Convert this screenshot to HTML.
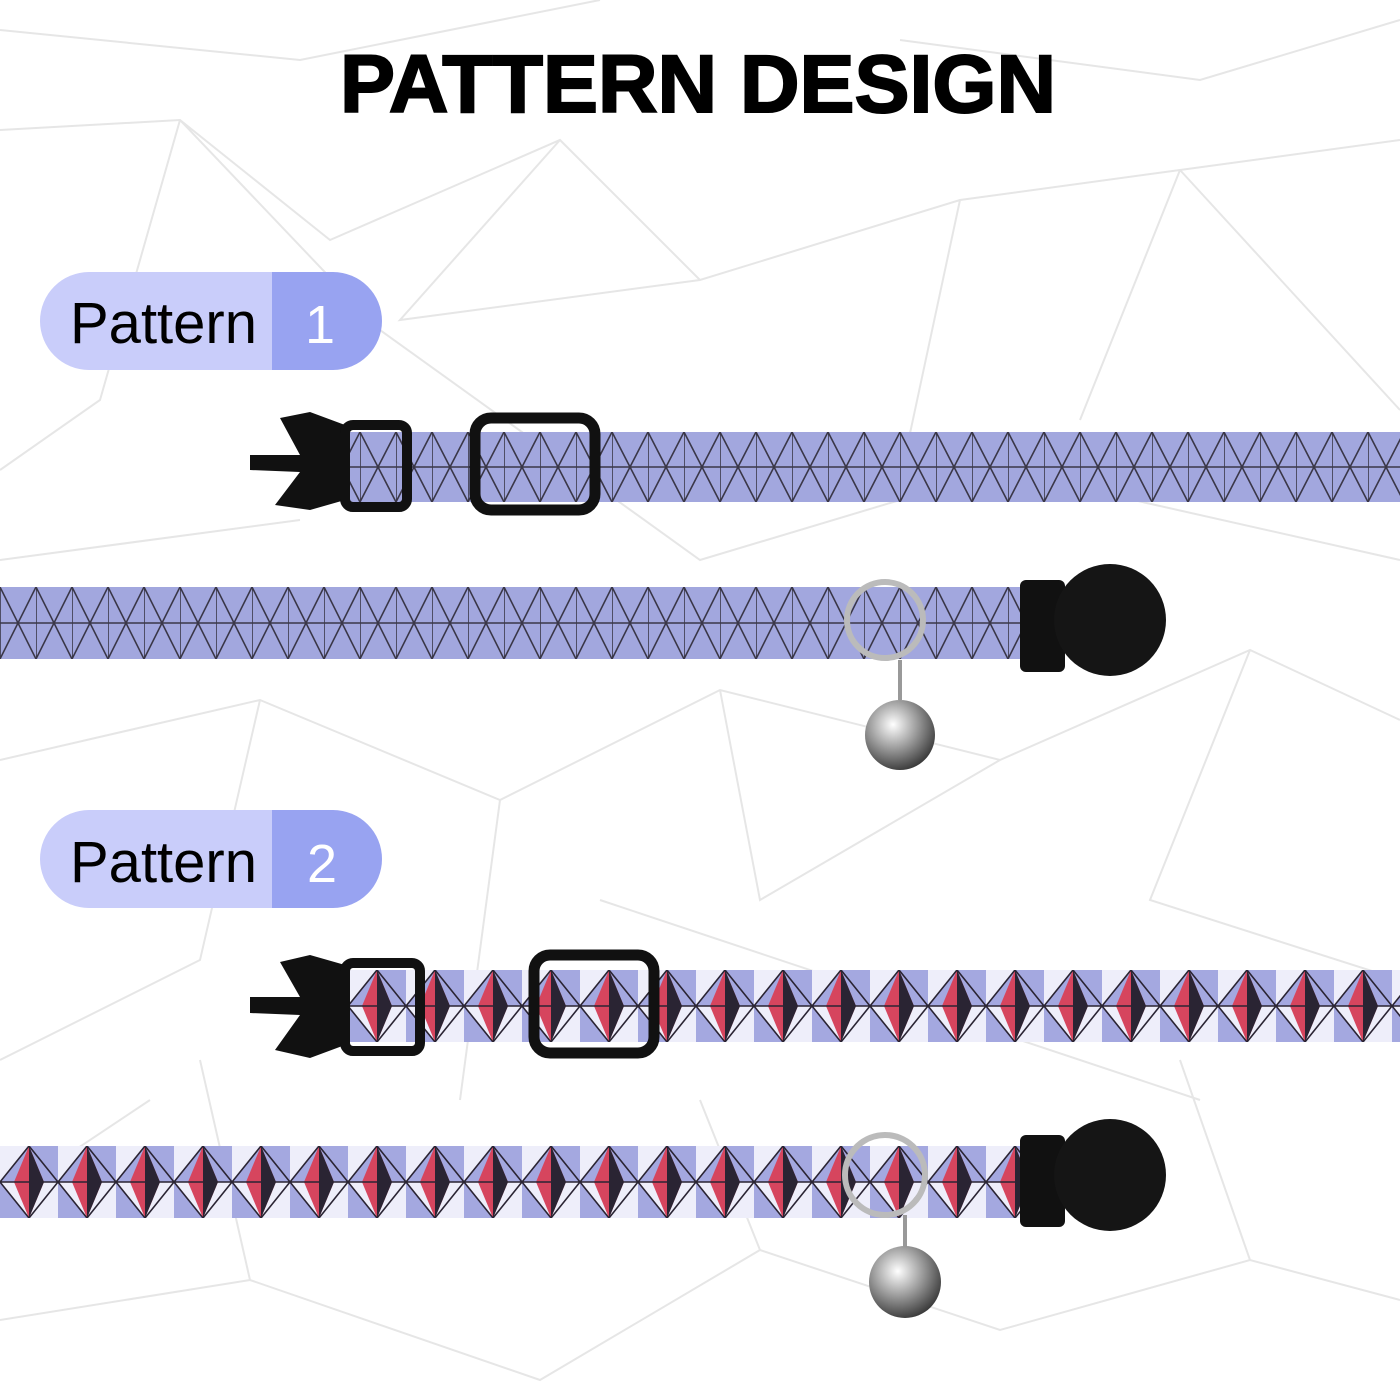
<!DOCTYPE html>
<html><head><meta charset="utf-8"><style>
html,body{margin:0;padding:0;background:#fff;width:1400px;height:1400px;overflow:hidden}
</style></head><body>
<svg width="1400" height="1400" viewBox="0 0 1400 1400" xmlns="http://www.w3.org/2000/svg" font-family="Liberation Sans, DejaVu Sans, sans-serif">
<defs>
<pattern id="p1" x="0" y="432" width="36" height="70" patternUnits="userSpaceOnUse">
<rect width="36" height="70" fill="#a2a7de"/>
<path d="M0 0V70M0 35H36M0 0L36 70M36 0L0 70" stroke="#3a3748" stroke-width="1.6" fill="none"/>
</pattern>
<pattern id="p1b" x="0" y="587" width="36" height="72" patternUnits="userSpaceOnUse">
<rect width="36" height="72" fill="#a2a7de"/>
<path d="M0 0V72M0 36H36M0 0L36 72M36 0L0 72" stroke="#3a3748" stroke-width="1.6" fill="none"/>
</pattern>
<pattern id="p2" x="0" y="970" width="58" height="72" patternUnits="userSpaceOnUse">
<rect width="58" height="72" fill="#eeeefa"/>
<polygon points="0,36 29,0 58,0 58,36" fill="#a4a8e0"/>
<polygon points="0,36 29,72 0,72" fill="#a4a8e0"/>
<polygon points="29,0 14,36 29,72 44,36" fill="#d6455e"/>
<polygon points="29,0 44,36 29,72" fill="#2a2433"/>
<path d="M0 36H58M0 36L29 0M0 36L29 72M58 36L29 0M58 36L29 72" stroke="#2a2433" stroke-width="1.6" fill="none"/>
</pattern>
<pattern id="p2b" x="0" y="1146" width="58" height="72" patternUnits="userSpaceOnUse">
<rect width="58" height="72" fill="#eeeefa"/>
<polygon points="0,36 29,0 58,0 58,36" fill="#a4a8e0"/>
<polygon points="0,36 29,72 0,72" fill="#a4a8e0"/>
<polygon points="29,0 14,36 29,72 44,36" fill="#d6455e"/>
<polygon points="29,0 44,36 29,72" fill="#2a2433"/>
<path d="M0 36H58M0 36L29 0M0 36L29 72M58 36L29 0M58 36L29 72" stroke="#2a2433" stroke-width="1.6" fill="none"/>
</pattern>
<radialGradient id="bell" cx="0.4" cy="0.35" r="0.7"><stop offset="0" stop-color="#fff"/><stop offset="0.5" stop-color="#9a9a9a"/><stop offset="1" stop-color="#333"/></radialGradient>
</defs>
<g stroke="#e6e6e6" stroke-width="2" fill="none">
<path d="M0 130L180 120L330 240L560 140L700 280L960 200L1180 170L1400 140M180 120L100 400L0 470M180 120L380 330M560 140L400 320L700 280M960 200L900 480M1180 170L1400 410M1180 170L1080 420M0 760L260 700L500 800L720 690L1000 760L1250 650L1400 720M260 700L200 960L0 1060M500 800L460 1100M720 690L760 900L1000 760M1250 650L1150 900L1400 980M0 1320L250 1280L540 1380L760 1250L1000 1330L1250 1260L1400 1300M250 1280L200 1060M760 1250L700 1100M1250 1260L1180 1060M0 30L300 60L600 0M900 40L1200 80L1400 20M380 330L700 560L1000 470L1400 560M0 560L300 520M600 900L900 1000L1200 1100M0 1200L150 1100"/>
</g>
<text x="698" y="112" text-anchor="middle" font-size="82" font-weight="bold" fill="#000" textLength="716" lengthAdjust="spacingAndGlyphs" stroke="#000" stroke-width="2">PATTERN DESIGN</text>
<path d="M89 272H272V370H89A49 49 0 0 1 89 272Z" fill="#c9cdfa"/>
<path d="M272 272H333A49 49 0 0 1 333 370H272Z" fill="#98a3f1"/>
<text x="70" y="343" font-size="58" fill="#000">Pattern</text>
<text x="320" y="343" font-size="54" fill="#fff" text-anchor="middle">1</text>
<path d="M89 810H272V908H89A49 49 0 0 1 89 810Z" fill="#c9cdfa"/>
<path d="M272 810H333A49 49 0 0 1 333 908H272Z" fill="#98a3f1"/>
<text x="70" y="882" font-size="58" fill="#000">Pattern</text>
<text x="322" y="882" font-size="54" fill="#fff" text-anchor="middle">2</text>

<rect x="350" y="432" width="1050" height="70" fill="url(#p1)"/>
<path d="M250 455L300 455L280 418L310 412L345 425L345 500L310 510L275 505L300 472L250 470Z" fill="#111"/>
<rect x="345" y="425" width="62" height="82" rx="8" fill="none" stroke="#111" stroke-width="10"/>
<rect x="475" y="418" width="120" height="92" rx="16" fill="none" stroke="#111" stroke-width="11"/>
<rect x="0" y="587" width="1040" height="72" fill="url(#p1b)"/>
<circle cx="885" cy="620" r="38" fill="none" stroke="#bbb" stroke-width="6"/>
<line x1="900" y1="660" x2="900" y2="700" stroke="#999" stroke-width="4"/>
<circle cx="900" cy="735" r="35" fill="url(#bell)"/>
<rect x="1020" y="580" width="45" height="92" rx="6" fill="#111"/>
<circle cx="1110" cy="620" r="56" fill="#151515"/>
<rect x="350" y="970" width="1050" height="72" fill="url(#p2)"/>
<path d="M250 997L300 997L280 962L310 955L345 965L345 1045L310 1058L275 1050L300 1015L250 1013Z" fill="#111"/>
<rect x="345" y="963" width="75" height="88" rx="8" fill="none" stroke="#111" stroke-width="10"/>
<rect x="534" y="955" width="120" height="98" rx="16" fill="none" stroke="#111" stroke-width="11"/>
<rect x="0" y="1146" width="1040" height="72" fill="url(#p2b)"/>
<circle cx="885" cy="1175" r="40" fill="none" stroke="#bbb" stroke-width="6"/>
<line x1="905" y1="1215" x2="905" y2="1250" stroke="#999" stroke-width="4"/>
<circle cx="905" cy="1282" r="36" fill="url(#bell)"/>
<rect x="1020" y="1135" width="45" height="92" rx="6" fill="#111"/>
<circle cx="1110" cy="1175" r="56" fill="#151515"/>
</svg>
</body></html>
